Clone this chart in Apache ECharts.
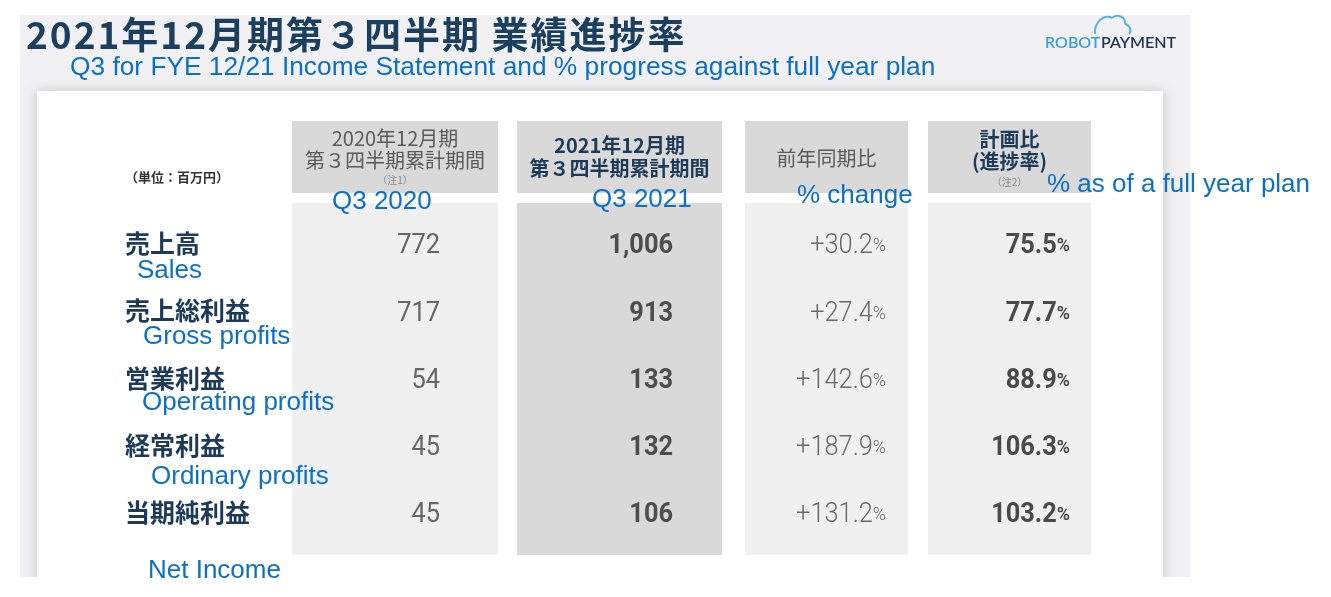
<!DOCTYPE html>
<html>
<head>
<meta charset="utf-8">
<script src="https://cdn.jsdelivr.net/npm/echarts@6/dist/echarts.min.js"></script>
<style>
html,body{margin:0;padding:0;background:#fff;}
#chart{width:1331px;height:597px;}
</style>
</head>
<body>
<div id="chart"></div>
<script>
// ---------- data ----------
const rowLabelsJa = ['売上高', '売上総利益', '営業利益', '経常利益', '当期純利益'];
const rowLabelsEn = ['Sales', 'Gross profits', 'Operating profits', 'Ordinary profits', 'Net Income'];
const q3_2020 = [772, 717, 54, 45, 45];
const q3_2021 = [1006, 913, 133, 132, 106];
const yoyChange = [30.2, 27.4, 142.6, 187.9, 131.2];
const planProgress = [75.5, 77.7, 88.9, 106.3, 103.2];
const headerLine1 = ['2020年12月期', '2021年12月期', '前年同期比', '計画比'];
const headerLine2 = ['第３四半期累計期間', '第３四半期累計期間', '', '(進捗率)'];
const headerNotes = ['（注1）', '', '', '（注2）'];
const headerEn = ['Q3 2020', 'Q3 2021', '% change', '% as of a full year plan'];
const titleJa = '2021年12月期第３四半期 業績進捗率';
const titleEn = 'Q3 for FYE 12/21 Income Statement and % progress against full year plan';
const unitLabel = '（単位：百万円）';

// ---------- layout (axis units along the table width) ----------
const colX0 = [0, 225, 453, 636];
const colX1 = [206, 430, 616, 799];
const colRight = [148, 381, 594, 778];
const headBold = [false, true, false, true];
const headLineDy = [[-19, 3, 23], [-12, 11, 0], [1, 0, 0], [-18, 4, 25]];
const headEnDx = [40, 75, 52, 119];
const headEnY = [44, 42, 38, 27];
const enRowDx = [-155, -149, -150, -141, -144];
const enRowDy = [27, 26, 25, 32, 58];

const JP = '"Noto Sans CJK JP", "Noto Sans", sans-serif';
const NUM = 'Roboto, "Noto Sans", sans-serif';
const EN = '"Liberation Sans", Arial, sans-serif';
const BLUE = '#0a70c8';
const NAVY = '#1d3a58';

function fmtCell(c, r) {
  if (c === 0) return '{n|' + q3_2020[r].toLocaleString('en-US') + '}';
  if (c === 1) return '{n|' + q3_2021[r].toLocaleString('en-US') + '}';
  if (c === 2) return '{n|+' + yoyChange[r].toFixed(1) + '}{p|%}';
  return '{n|' + planProgress[r].toFixed(1) + '}{p|%}';
}
const cellStyles = [
  {n: {fontFamily: NUM, fontSize: 27, fontWeight: 'normal', fill: '#666'}},
  {n: {fontFamily: NUM, fontSize: 27, fontWeight: 'bold', fill: '#4d4d4d'}},
  {n: {fontFamily: NUM, fontSize: 27, fontWeight: 300, fill: '#6a6a6a'}, p: {fontFamily: NUM, fontSize: 19, fontWeight: 300, fill: '#6a6a6a'}},
  {n: {fontFamily: NUM, fontSize: 27, fontWeight: 'bold', fill: '#4a4a4a'}, p: {fontFamily: NUM, fontSize: 19, fontWeight: 'bold', fill: '#4a4a4a'}}
];

const cellData = [];
for (let c = 0; c < 4; c++) for (let r = 0; r < rowLabelsJa.length; r++) cellData.push([colRight[c], r, c]);

// title with a little letter spacing via rich segments
const titleRich = Array.from(titleJa).map(ch => '{t|' + ch + '}').join('');

const chart = echarts.init(document.getElementById('chart'), null, {renderer: 'canvas'});
const option = {
  animation: false,
  backgroundColor: '#ffffff',
  grid: {left: 292, top: 210, width: 799, height: 336},
  xAxis: {type: 'value', min: 0, max: 799, show: false},
  yAxis: {
    type: 'category', data: rowLabelsJa, inverse: true, z: 5,
    axisLine: {show: false}, axisTick: {show: false}, splitLine: {show: false},
    axisLabel: {align: 'left', margin: 167, fontFamily: JP, fontSize: 25, fontWeight: 'bold', color: NAVY}
  },
  graphic: [
    {type: 'rect', z: -20, shape: {x: 20, y: 15, width: 1170, height: 562}, style: {fill: '#f1f1f3'}},
    {type: 'rect', z: -19, shape: {x: 37, y: 91, width: 1126, height: 500},
      style: {fill: '#ffffff', shadowBlur: 12, shadowColor: 'rgba(0,0,0,0.18)', shadowOffsetX: 0, shadowOffsetY: 0}},
    {type: 'rect', z: -18, shape: {x: 0, y: 577, width: 1331, height: 20}, style: {fill: '#ffffff'}},
    {type: 'rect', z: -18, shape: {x: 1190, y: 0, width: 141, height: 597}, style: {fill: '#ffffff'}},
    {type: 'text', z: 50, x: 25, y: 35, style: {text: titleRich, rich: {t: {fontFamily: JP, fontSize: 37, fontWeight: 'bold', fill: '#1b3f5e', padding: [0, 1, 0, 1]}}, verticalAlign: 'middle', align: 'left'}},
    {type: 'text', z: 50, x: 70, y: 68, style: {text: titleEn, font: '26.3px ' + EN, fill: BLUE, verticalAlign: 'middle', align: 'left'}},
    {type: 'text', z: 50, x: 125, y: 177, style: {text: unitLabel, font: 'bold 13px ' + JP, fill: '#333', verticalAlign: 'middle', align: 'left'}},
    {type: 'bezierCurve', z: 50, shape: {x1: 1095, y1: 34, cpx1: 1094, cpy1: 22, cpx2: 1104, cpy2: 14, x2: 1112, y2: 18}, style: {fill: 'none', stroke: '#5ab2e2', lineWidth: 2}},
    {type: 'bezierCurve', z: 50, shape: {x1: 1112, y1: 18, cpx1: 1117, cpy1: 13, cpx2: 1126, cpy2: 17, x2: 1125, y2: 24}, style: {fill: 'none', stroke: '#5ab2e2', lineWidth: 2}},
    {type: 'bezierCurve', z: 50, shape: {x1: 1125, y1: 24, cpx1: 1130, cpy1: 25, cpx2: 1132, cpy2: 31, x2: 1129, y2: 34}, style: {fill: 'none', stroke: '#5ab2e2', lineWidth: 2}},
    {type: 'text', z: 50, x: 1045, y: 43, style: {text: 'ROBOT', font: '600 16px Lato, "Noto Sans", sans-serif', fill: '#3b9ed9', verticalAlign: 'middle', align: 'left'}},
    {type: 'text', z: 50, x: 1101, y: 43, style: {text: 'PAYMENT', font: '600 16px Lato, "Noto Sans", sans-serif', fill: '#1f3552', verticalAlign: 'middle', align: 'left'}}
  ],
  series: [
    {
      type: 'custom', name: 'columns', z: 1, clip: false,
      encode: {x: 0, y: 1},
      data: headerLine1.map((_, i) => [colX0[i], 0]),
      renderItem: function (params, api) {
        const i = params.dataIndex;
        const n = rowLabelsJa.length;
        const a = api.coord([colX0[i], 0]);
        const b = api.coord([colX1[i], n - 1]);
        const rowH = api.size([0, 1])[1];
        const x0 = a[0], x1 = b[0], w = x1 - x0, cx = (x0 + x1) / 2;
        const bodyTop = a[1] - rowH / 2 - 7;
        const bodyBot = b[1] + rowH / 2 + 9;
        const headTop = a[1] - rowH / 2 - 89;
        const headH = 72;
        const headC = headTop + headH / 2;
        const bold = headBold[i];
        const hColor = bold ? NAVY : '#5a5a5a';
        const children = [
          {type: 'rect', shape: {x: x0, y: headTop, width: w, height: headH}, style: {fill: '#d9d9d9'}},
          {type: 'rect', shape: {x: x0, y: bodyTop, width: w, height: bodyBot - bodyTop}, style: {fill: i === 1 ? '#d9d9d9' : '#f0f0f0'}},
          {type: 'text', x: cx, y: headC + headLineDy[i][0], style: {text: headerLine1[i], font: (bold ? 'bold ' : '') + '20px ' + JP, fill: hColor, align: 'center', verticalAlign: 'middle'}}
        ];
        if (headerLine2[i]) children.push({type: 'text', x: cx, y: headC + headLineDy[i][1], style: {text: headerLine2[i], font: (bold ? 'bold ' : '') + '20px ' + JP, fill: hColor, align: 'center', verticalAlign: 'middle'}});
        if (headerNotes[i]) children.push({type: 'text', x: cx, y: headC + headLineDy[i][2], style: {text: headerNotes[i], font: '10px ' + JP, fill: '#888', align: 'center', verticalAlign: 'middle'}});
        children.push({type: 'text', x: x0 + headEnDx[i], y: headTop + headH + headEnY[i] - 35, style: {text: headerEn[i], font: '26px ' + EN, fill: BLUE, align: 'left', verticalAlign: 'middle'}});
        return {type: 'group', children: children};
      }
    },
    {
      type: 'custom', name: 'cells', z: 3, clip: false,
      encode: {x: 0, y: 1},
      data: cellData,
      renderItem: function (params, api) {
        const pt = api.coord([api.value(0), api.value(1)]);
        const c = api.value(2), r = api.value(1);
        return {
          type: 'text', x: pt[0], y: pt[1] + 3, scaleX: 0.94, scaleY: 1,
          style: {text: fmtCell(c, r), rich: cellStyles[c], align: 'right', verticalAlign: 'middle'}
        };
      }
    },
    {
      type: 'custom', name: 'english rows', z: 4, clip: false,
      encode: {x: 0, y: 1},
      data: rowLabelsEn.map((_, r) => [0, r]),
      renderItem: function (params, api) {
        const r = params.dataIndex;
        const pt = api.coord([0, r]);
        return {
          type: 'text', x: pt[0] + enRowDx[r], y: pt[1] + enRowDy[r],
          style: {text: rowLabelsEn[r], font: '26px ' + EN, fill: BLUE, align: 'left', verticalAlign: 'middle'}
        };
      }
    }
  ]
};
chart.setOption(option);
</script>
</body>
</html>
